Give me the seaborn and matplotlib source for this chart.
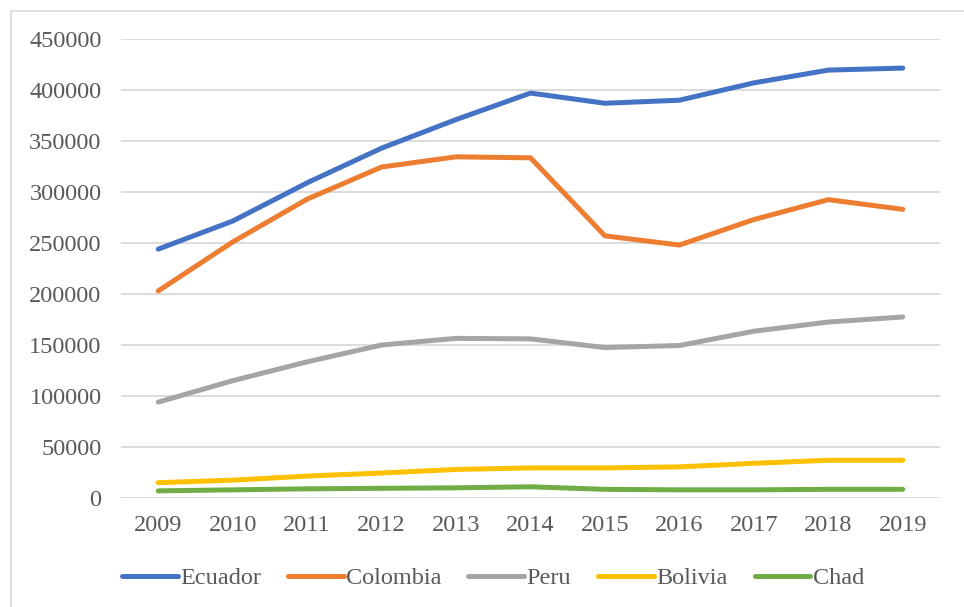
import pandas as pd
import matplotlib
matplotlib.use("Agg")
import matplotlib.pyplot as plt
import seaborn as sns
from matplotlib.patches import Rectangle

years = ['2009', '2010', '2011', '2012', '2013', '2014', '2015', '2016', '2017', '2018', '2019']
ecuador = [244000, 271500, 309000, 343000, 371000, 397000, 387000, 390000, 407000, 419500, 421500]
colombia = [203000, 251000, 293000, 324500, 334500, 333500, 257000, 248000, 273000, 292500, 283000]
peru = [94000, 115000, 133500, 150000, 156500, 156000, 147500, 149500, 163500, 172500, 177500]
bolivia = [15000, 17500, 21500, 24500, 28000, 29500, 29500, 30500, 34000, 37000, 37000]
chad = [7000, 8000, 9000, 9500, 10000, 11000, 8500, 8000, 8000, 8500, 8500]

series = {'Ecuador': ecuador, 'Colombia': colombia, 'Peru': peru,
          'Bolivia': bolivia, 'Chad': chad}
colors = ['#4472C4', '#ED7D31', '#A5A5A5', '#FFC000', '#70AD47']


def build_frame():
    rows = []
    for name, vals in series.items():
        for i, v in enumerate(vals):
            rows.append({'year': i, 'country': name, 'value': v})
    return pd.DataFrame(rows)


def plot_chart(df):
    sns.set_style('white')
    plt.rcParams['font.family'] = ['Liberation Serif', 'DejaVu Serif']
    text_col = '#595959'
    fs = 17.5

    fig = plt.figure(figsize=(9.64, 6.07), dpi=100)
    W, H = 964, 607
    ax = fig.add_axes([121 / W, 1 - 498 / H, (940 - 121) / W, (498 - 39) / H])

    sns.lineplot(data=df, x='year', y='value', hue='country',
                 palette=colors, linewidth=3.6, ax=ax,
                 solid_capstyle='round', legend=True)

    ax.set_xlim(-0.5, len(years) - 0.5)
    ax.set_ylim(0, 450000)
    ax.set_yticks(range(0, 450001, 50000))
    ax.set_yticklabels([str(v) for v in range(0, 450001, 50000)])
    ax.set_xticks(range(len(years)))
    ax.set_xticklabels(years)
    ax.tick_params(axis='y', length=0, pad=14, labelsize=fs, labelcolor=text_col)
    ax.tick_params(axis='x', length=0, pad=12, labelsize=fs, labelcolor=text_col)
    ax.set_xlabel('')
    ax.set_ylabel('')
    ax.grid(axis='y', color='#D9D9D9', linewidth=1.3)
    ax.grid(axis='x', visible=False)
    for s in ax.spines.values():
        s.set_visible(False)
    ax.set_axisbelow(True)

    ax.get_legend().remove()
    handles, labels = ax.get_legend_handles_labels()
    for h in handles:
        h.set_linewidth(3.6)
        h.set_solid_capstyle('round')
    fig.legend(handles, labels, loc='center', bbox_to_anchor=(493 / W, 1 - 578 / H),
               ncol=5, frameon=False, fontsize=fs, labelcolor=text_col,
               handlelength=2.3, handletextpad=0.1, columnspacing=1.1)

    fig.patches.append(Rectangle((10.5 / W, -0.1), 1.2, 1 - 10.5 / H + 0.1,
                                 transform=fig.transFigure, fill=False,
                                 edgecolor='#D9D9D9', linewidth=1.2))
    fig.savefig('out.png', dpi=100)


def main():
    df = build_frame()
    plot_chart(df)


if __name__ == "__main__":
    main()
